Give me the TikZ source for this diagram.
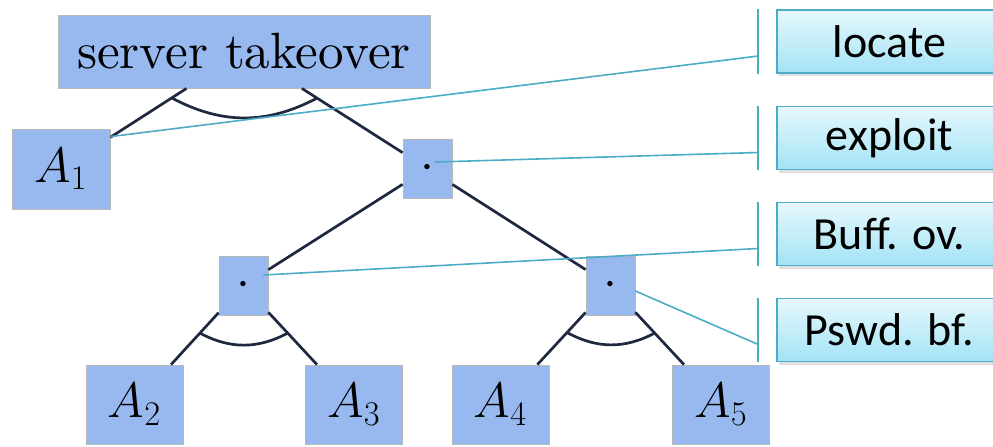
\documentclass[tikz,border=0pt]{standalone}
\usepackage{fontspec}
\newfontfamily\calloutfont{Carlito}
\newfontfamily\treefont{lmroman10-regular.otf}
\usetikzlibrary{calc,shadows}

\definecolor{treefill}{HTML}{97B9F0}
\definecolor{treeline}{HTML}{1E2940}
\definecolor{tealline}{HTML}{4AACC5}
\definecolor{tagtop}{HTML}{E6F8FD}
\definecolor{tagbot}{HTML}{A3E3F5}

\tikzset{
  attack/.style={draw=gray!55, fill=treefill, inner sep=0pt,
    font=\treefont\fontsize{24}{28}\selectfont},
  gate/.style={attack, minimum width=24.5pt, minimum height=29.5pt},
  leaf/.style={attack, minimum width=48.5pt, minimum height=39.5pt},
  andor/.style={draw=treeline, line width=1.35pt},
  tagbox/.style={draw=tealline, line width=0.8pt, top color=tagtop,
    bottom color=tagbot, minimum width=112.5pt, minimum height=31.5pt,
    inner sep=0pt, font=\calloutfont\fontsize{23}{27}\selectfont,
    drop shadow={shadow xshift=1pt, shadow yshift=-1.5pt, opacity=0.25}},
  leader/.style={draw=tealline, line width=0.8pt}
}

\begin{document}
\begin{tikzpicture}[x=0.5pt,y=-0.5pt]
\useasboundingbox (0,0) rectangle (993,446);
% attack tree
\node[attack, minimum width=186pt, minimum height=36.5pt,
  font=\treefont\fontsize{25.5}{30}\selectfont] (R) at (244,51.5) {server takeover};
\node[attack, minimum width=49pt, minimum height=40pt] (A1) at (61,169) {$A_1$};
\node[gate] (G1) at (427.5,168.5) {$\cdot$};
\node[gate] (G2) at (243.5,285.5) {$\cdot$};
\node[gate] (G3) at (610.5,285.5) {$\cdot$};
\node[leaf] (A2) at (134.5,404.5) {$A_2$};
\node[leaf] (A3) at (354,404.5) {$A_3$};
\node[leaf] (A4) at (500.5,404.5) {$A_4$};
\node[leaf] (A5) at (721,404.5) {$A_5$};

\path[andor]
(R) edge (A1)
(R) edge (G1)
(G1) edge (G2)
(G1) edge (G3)
(G2) edge (A2)
(G2) edge (A3)
(G3) edge (A4)
(G3) edge (A5);

% conjunction arcs
\draw[andor] ($(R)!0.395!(A1)$) to[bend right=28] ($(R)!0.398!(G1)$);
\draw[andor] ($(G2)!0.4!(A2)$) to[bend right=28] ($(G2)!0.4!(A3)$);
\draw[andor] ($(G3)!0.395!(A4)$) to[bend right=28] ($(G3)!0.4!(A5)$);

% callouts
\node[tagbox] (L1) at (889.5,41.5) {locate};
\node[tagbox] (L2) at (889.5,138) {exploit};
\node[tagbox] (L3) at (889.5,234) {Buff. ov.};
\node[tagbox] (L4) at (889.5,330) {Pswd. bf.};

\foreach \t in {L1,L2,L3,L4} {
  \draw[leader] ([xshift=-9pt]\t.north west) -- ([xshift=-9pt]\t.south west);
  \coordinate (\t p) at ([xshift=-9pt,yshift=-7.25pt]\t.west);
}

\path[leader]
([yshift=-4pt]A1.north east) edge (L1p)
([shift={(3.75pt,3.25pt)}]G1.center) edge (L2p)
([shift={(-2.5pt,5.25pt)}]G2.east) edge (L3p)
([yshift=-2.75pt]G3.east) edge (L4p);

\end{tikzpicture}
\end{document}
